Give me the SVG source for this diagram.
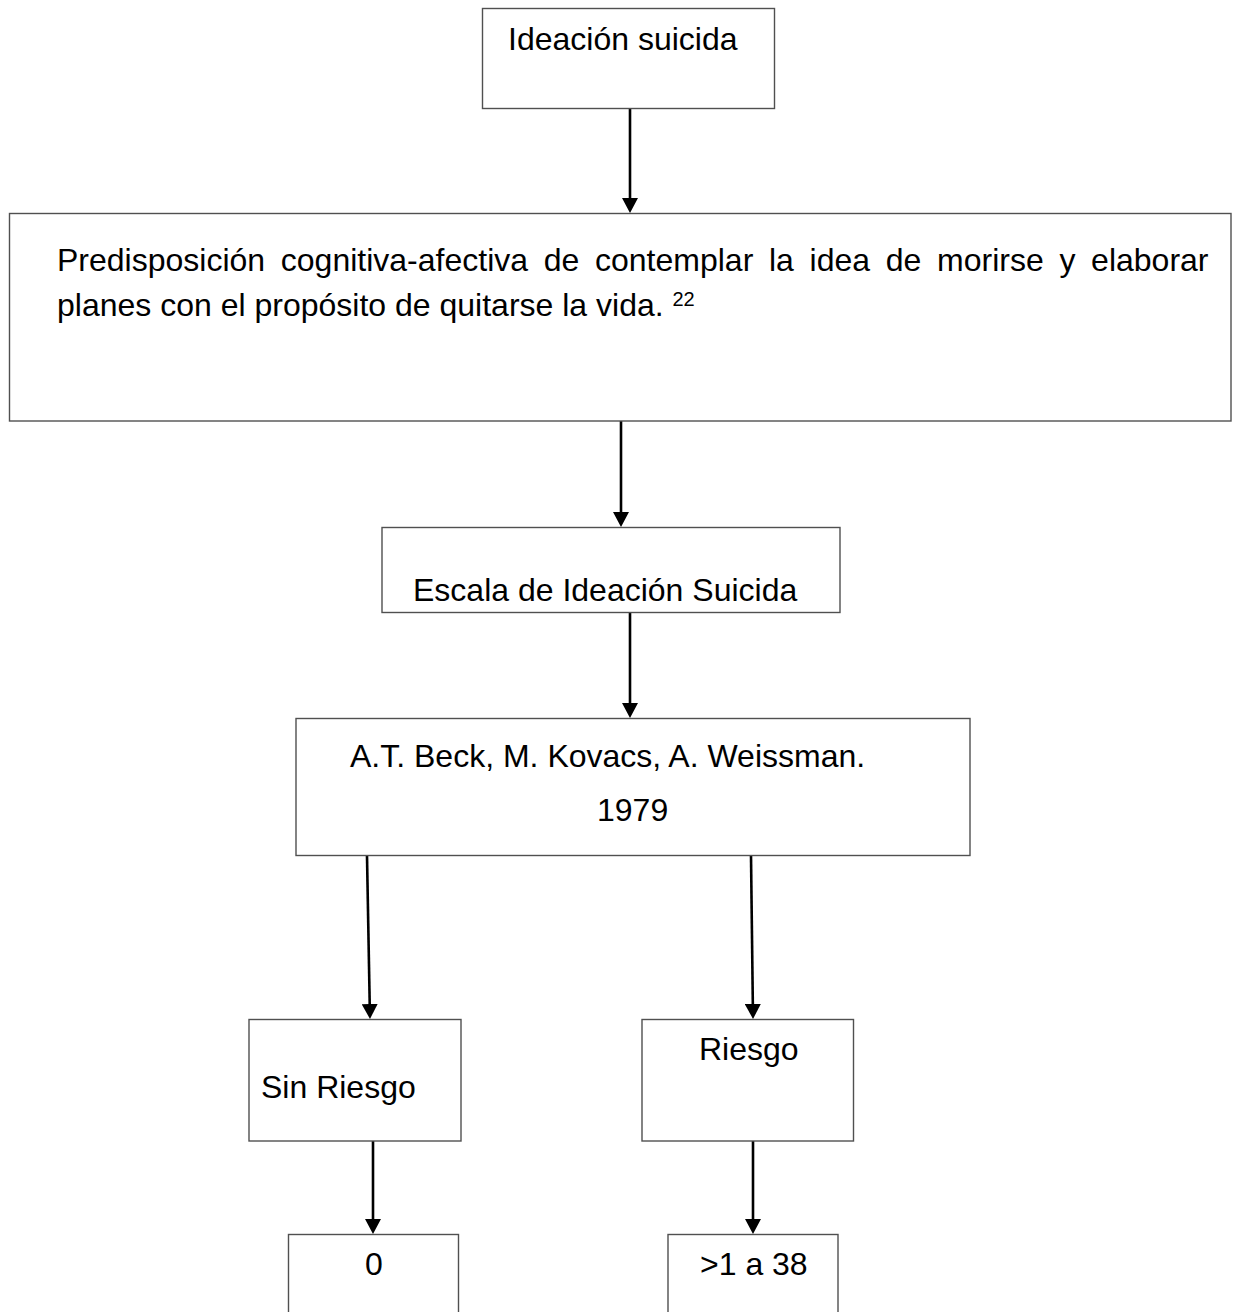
<svg xmlns="http://www.w3.org/2000/svg" width="1235" height="1312" viewBox="0 0 1235 1312">
  <style>
    .box { fill: #ffffff; stroke: #505050; stroke-width: 1.4; }
    .t { font-family: "Liberation Sans", Arial, sans-serif; font-size: 32px; fill: #000000; }
    .sup { font-size: 20px; }
    .conn { stroke: #000000; stroke-width: 2.6; fill: none; marker-end: url(#arrow); }
  </style>
  <defs>
    <marker id="arrow" viewBox="0 0 15 16" markerWidth="15" markerHeight="16" refX="5" refY="8" markerUnits="userSpaceOnUse" orient="auto">
      <path d="M0,0 L15,8 L0,16 Z" fill="#000000"/>
    </marker>
  </defs>
  <rect width="1235" height="1312" fill="#ffffff"/>

  <g id="connectors">
    <line class="conn" x1="630" y1="109" x2="630" y2="203"/>
    <line class="conn" x1="621" y1="421" x2="621" y2="517"/>
    <line class="conn" x1="630" y1="613" x2="630" y2="708"/>
    <line class="conn" x1="367" y1="856" x2="369.8" y2="1009"/>
    <line class="conn" x1="751" y1="856" x2="752.9" y2="1009"/>
    <line class="conn" x1="373" y1="1141" x2="373" y2="1224"/>
    <line class="conn" x1="753" y1="1141" x2="753" y2="1224"/>
  </g>

  <g id="node-ideacion">
    <rect class="box" x="482.5" y="8.5" width="292" height="100"/>
    <text class="t" x="508" y="50">Ideación suicida</text>
  </g>

  <g id="node-definicion">
    <rect class="box" x="9.5" y="213.5" width="1221.5" height="207.5"/>
    <text class="t" x="57" y="271" word-spacing="6.8">Predisposición cognitiva-afectiva de contemplar la idea de morirse y elaborar</text>
    <text class="t" x="57" y="316">planes con el propósito de quitarse la vida. <tspan class="sup" dy="-10">22</tspan></text>
  </g>

  <g id="node-escala">
    <rect class="box" x="382" y="527.5" width="458" height="85"/>
    <text class="t" x="413" y="601">Escala de Ideación Suicida</text>
  </g>

  <g id="node-autores">
    <rect class="box" x="296" y="718.5" width="674" height="137"/>
    <text class="t" x="350" y="767">A.T. Beck, M. Kovacs, A. Weissman.</text>
    <text class="t" x="597" y="821">1979</text>
  </g>

  <g id="node-sin-riesgo">
    <rect class="box" x="249" y="1019.5" width="212" height="121.5"/>
    <text class="t" x="261" y="1098">Sin Riesgo</text>
  </g>

  <g id="node-riesgo">
    <rect class="box" x="642" y="1019.5" width="211.5" height="121.5"/>
    <text class="t" x="699" y="1060">Riesgo</text>
  </g>

  <g id="node-cero">
    <rect class="box" x="288.5" y="1234.5" width="170" height="100"/>
    <text class="t" x="365" y="1275">0</text>
  </g>

  <g id="node-rango">
    <rect class="box" x="668" y="1234.5" width="170" height="100"/>
    <text class="t" x="700" y="1275">&gt;1 a 38</text>
  </g>
</svg>
